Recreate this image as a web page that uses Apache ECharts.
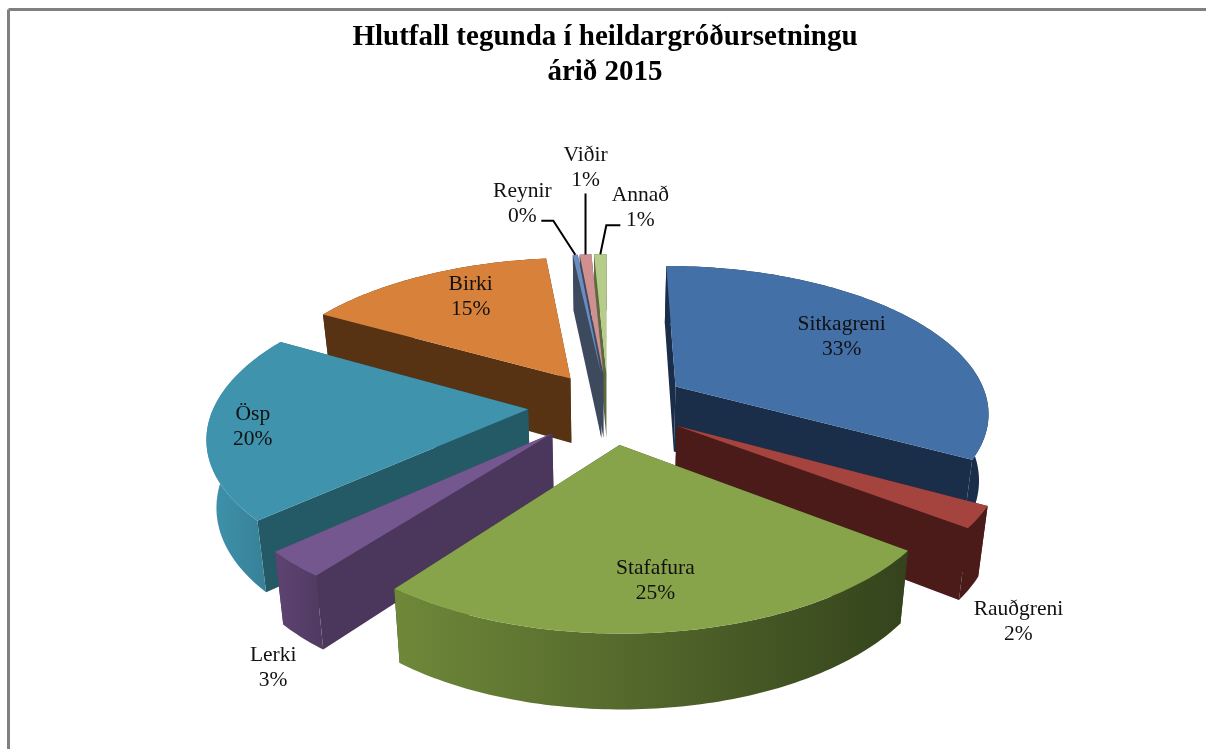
<!DOCTYPE html>
<html><head><meta charset="utf-8">
<style>html,body{margin:0;padding:0;background:#fff}#c{width:1206px;height:749px}</style>
<script src="https://cdn.jsdelivr.net/npm/echarts@6/dist/echarts.min.js"></script>
</head><body><div id="c"></div>
<script>
const categories = ['Sitkagreni','Rauðgreni','Stafafura','Lerki','Ösp','Birki','Reynir','Viðir','Annað'];
const seriesValues = [33, 2.3, 25, 2.8, 20, 15, 0.3, 0.7, 0.75];
const shownPercent = ['33%','2%','25%','3%','20%','15%','0%','1%','1%'];
const titleLines = ['Hlutfall tegunda í heildargróðursetningu','árið 2015'];

const topColors = ['#4470a8','#a5443f','#87a44b','#74578f','#3f93ad','#d8813a','#6a8cc0','#d09090','#b6cc8a'];
const sideColors = ['#1a2e4a','#4a1b19','#34431c','#4b375c','#235a66','#573213','#3d4a5e','#3d4a5e','#5b6b3c'];
const outerStops = [['#1a2e4a','#1a2e4a'],['#4a1b19','#4a1b19'],['#6f8839','#34431c'],['#5e4472','#4f3a60'],['#3f93ad','#347a90'],['#573213','#573213'],['#3d4a5e','#3d4a5e'],['#3d4a5e','#3d4a5e'],['#5b6b3c','#5b6b3c']];
// per-slice explosion and radius, as fractions of the pie radius
const sliceExplode = [0.25,0.25,0.26,0.25,0.25,0.22,0.22,0.22,0.22];
const sliceRadius = [0.98,0.98,0.97,0.985,0.98,1,1,1,1];
// label placement: disc radius along the slice's middle, then a pixel nudge
const labelRadius = [0.68,1.05,0.77,1.05,0.84,0.80,1,1,1];
const labelNudge = [[-1,-3.5],[23,100],[-4,-2],[-6,96.5],[-7,3.5],[20,2.5],[-53,-51],[0,-87],[40,-46]];
const leaderOffsets = [null,null,null,null,null,null,[[-22,-34],[-34,-34]],[[0,-61]],[[6,-29],[20,-29]]];

const G = {cx:608, cy:405, rx:320, ry:148.5, k:0.165, wallBase:66, wallSlope:8, converge:0.975};
const total = seriesValues.reduce((a,b)=>a+b,0);
let acc = 0;
const slices = seriesValues.map((v,i)=>{const a0=acc/total*2*Math.PI;acc+=v;const a1=acc/total*2*Math.PI;return {a0,a1,m:(a0+a1)/2,e:sliceExplode[i],R:sliceRadius[i]};});
function proj(xd,t){const s=1/(1-G.k*t);return [G.cx+G.rx*xd*s,G.cy+G.ry*t*s];}
function tOf(sl,a,r){return -sl.e*Math.cos(sl.m)-r*sl.R*Math.cos(a);}
function discPoint(sl,a,r){return proj(sl.e*Math.sin(sl.m)+r*sl.R*Math.sin(a),tOf(sl,a,r));}
function low(sl,a,r){const p=discPoint(sl,a,r);const t=tOf(sl,a,r);return [G.cx+(p[0]-G.cx)*G.converge,p[1]+G.wallBase+G.wallSlope*t];}
const order = slices.map((s,i)=>[-Math.cos(s.m),i]).sort((a,b)=>a[0]-b[0]);
const rank = []; order.forEach((o,r)=>{rank[o[1]]=r;});

function renderItem(params, api){
  const i = params.dataIndex, sl = slices[i], z = (rank[i]+1)*10;
  const steps = Math.max(4,Math.ceil((sl.a1-sl.a0)/(Math.PI/180)));
  const arc=[], arcLow=[];
  for(let n=0;n<=steps;n++){const a=sl.a0+(sl.a1-sl.a0)*n/steps;arc.push(discPoint(sl,a,1));arcLow.push(low(sl,a,1));}
  const apex=discPoint(sl,sl.m,0), apexLow=low(sl,sl.m,0);
  const kids=[];
  const poly=(pts,fill,zz)=>kids.push({type:'polygon',z2:z+zz,shape:{points:pts},style:{fill:fill}});
  poly([apex,arc[0],arcLow[0],apexLow],sideColors[i],0);
  poly([apex,arc[steps],arcLow[steps],apexLow],sideColors[i],0);
  const grad=new echarts.graphic.LinearGradient(0,0,1,0,[{offset:0,color:outerStops[i][0]},{offset:1,color:outerStops[i][1]}]);
  poly(arc.concat(arcLow.slice().reverse()),grad,1);
  poly([apex].concat(arc),topColors[i],2);
  const anchor=discPoint(sl,sl.m,labelRadius[i]);
  const nud=labelNudge[i];
  kids.push({type:'text',z2:200,style:{text:api.value(1)+'\n'+shownPercent[i],x:anchor[0]+nud[0],y:anchor[1]+nud[1],
    align:'center',verticalAlign:'middle',font:'21.5px "Liberation Serif"',lineHeight:25,fill:'#111'}});
  if(leaderOffsets[i]){
    const pts=[anchor].concat(leaderOffsets[i].map(o=>[anchor[0]+o[0],anchor[1]+o[1]]));
    kids.push({type:'polyline',z2:150,shape:{points:pts},style:{fill:null,stroke:'#000',lineWidth:2}});
  }
  return {type:'group',children:kids};
}
const chart=echarts.init(document.getElementById('c'),null,{renderer:'canvas'});
chart.setOption({
  animation:false,backgroundColor:'#fff',
  title:{text:titleLines.join('\n'),left:600,top:15,textAlign:'center',textStyle:{fontFamily:'Liberation Serif',fontWeight:'bold',fontSize:29,lineHeight:35,color:'#000'}},
  graphic:[
    {type:'line',shape:{x1:8.5,y1:9.5,x2:1206,y2:9.5},style:{stroke:'#808080',lineWidth:3},silent:true},
    {type:'line',shape:{x1:8.5,y1:9.5,x2:8.5,y2:749},style:{stroke:'#808080',lineWidth:3},silent:true}
  ],
  series:[{type:'custom',coordinateSystem:'none',renderItem:renderItem,clip:false,
    data:categories.map((c,i)=>[seriesValues[i],c])}]
});
</script></body></html>
